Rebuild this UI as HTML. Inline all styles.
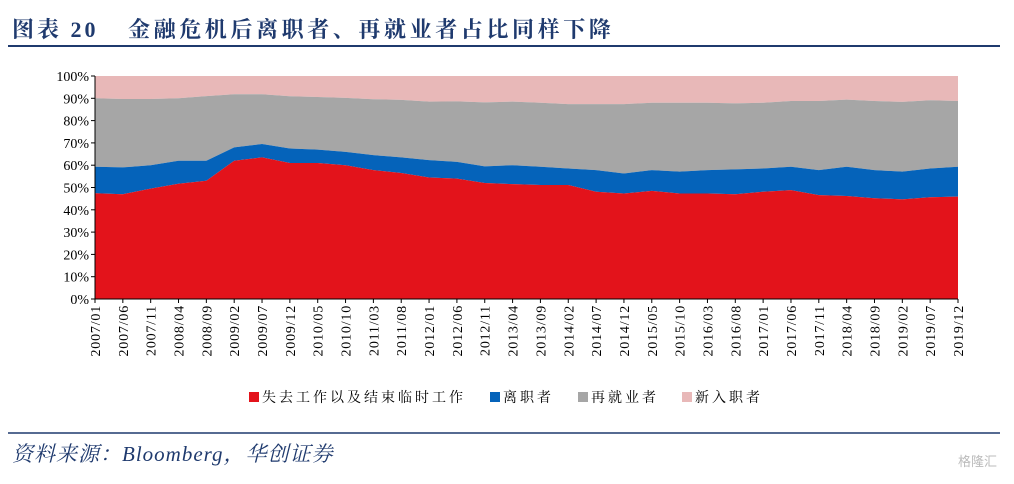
<!DOCTYPE html>
<html><head><meta charset="utf-8"><style>
body{margin:0;width:1014px;height:479px;background:#fff;overflow:hidden;font-family:"Liberation Serif","Noto Serif CJK SC",serif;}
</style></head><body>
<svg width="1014" height="479" xmlns="http://www.w3.org/2000/svg">
<text x="12" y="37" font-size="22" font-weight="bold" fill="#1f3a6e" font-family="'Liberation Serif','Noto Serif CJK SC',serif"><tspan letter-spacing="3">图表 20</tspan><tspan x="128" letter-spacing="3.6">金融危机后离职者、再就业者占比同样下降</tspan></text>
<line x1="8" y1="46" x2="1000" y2="46" stroke="#1f3a6e" stroke-width="2"/>
<g id="plot"></g>
<g id="yax"></g>
<g id="xax"></g>
<g font-size="14" font-family="'Liberation Serif','Noto Serif CJK SC',serif">
<rect x="249" y="392" width="10" height="10" fill="#e3131b"/>
<text x="262" y="402" letter-spacing="3">失去工作以及结束临时工作</text>
<rect x="490" y="392" width="10" height="10" fill="#0563ba"/>
<text x="503" y="402" letter-spacing="3">离职者</text>
<rect x="578" y="392" width="10" height="10" fill="#a6a6a6"/>
<text x="591" y="402" letter-spacing="3">再就业者</text>
<rect x="682" y="392" width="10" height="10" fill="#e8b8b8"/>
<text x="695" y="402" letter-spacing="3">新入职者</text>
</g>
<line x1="8" y1="433" x2="1000" y2="433" stroke="#1f3a6e" stroke-width="1.5"/>
<text x="12" y="461" font-size="21" font-style="italic" fill="#1f3a6e" letter-spacing="1">资料来源：Bloomberg，华创证券</text>
<text x="958" y="466" font-size="13" fill="#bbb" font-family="'Liberation Sans','Noto Sans CJK SC',sans-serif">格隆汇</text>
</svg>
<script>
// sampled every 5 months, 2007/01 .. 2019/12 (cumulative stack tops, %)
const categories=["2007/01","2007/06","2007/11","2008/04","2008/09","2009/02","2009/07","2009/12","2010/05","2010/10","2011/03","2011/08","2012/01","2012/06","2012/11","2013/04","2013/09","2014/02","2014/07","2014/12","2015/05","2015/10","2016/03","2016/08","2017/01","2017/06","2017/11","2018/04","2018/09","2019/02","2019/07","2019/12"];
const jobLosers=[47.4,47,49.5,51.7,53,62,63.5,61,61,60,57.8,56.5,54.5,54,52,51.5,51.1,51.1,48.1,47.3,48.5,47.3,47.3,47,48.1,48.8,46.6,46.2,45.2,44.7,45.6,45.9];
const leaversTop=[59.3,59,60,62,62,68,69.5,67.5,67,66,64.5,63.5,62.3,61.5,59.5,60,59.3,58.5,57.8,56.3,57.8,57.1,57.8,58.1,58.5,59.3,57.8,59.3,57.8,57.1,58.5,59.3];
const reentrantsTop=[90,89.7,89.7,90,91,91.8,91.8,90.9,90.6,90.2,89.6,89.3,88.5,88.6,88.2,88.5,88,87.4,87.4,87.4,88,88,88,87.7,88,88.8,88.8,89.4,88.8,88.4,89.1,88.8];
const yTicks=["0%","10%","20%","30%","40%","50%","60%","70%","80%","90%","100%"];
const X0=95,X1=958,Y0=299,Y1=76,NS="http://www.w3.org/2000/svg";
const xs=i=>X0+i*(X1-X0)/(categories.length-1);
const ys=v=>Y0-v/100*(Y0-Y1);
function mk(t,a,p){const e=document.createElementNS(NS,t);for(const k in a)e.setAttribute(k,a[k]);p.appendChild(e);return e;}
const plot=document.getElementById('plot');
function area(top,bot,fill,name){
  let d="M"+top.map((v,i)=>xs(i)+","+ys(v)).join("L");
  for(let i=bot.length-1;i>=0;i--)d+="L"+xs(i)+","+ys(bot[i]);
  const p=mk('path',{d:d+"Z",fill:fill},plot);
  
  
}
const zeros=categories.map(()=>0),hund=categories.map(()=>100);
area(hund,reentrantsTop,"#e8b8b8","area-new-entrants");
area(reentrantsTop,leaversTop,"#a6a6a6","area-reentrants");
area(leaversTop,jobLosers,"#0563ba","area-leavers");
area(jobLosers,zeros,"#e3131b","area-job-losers");
const yax=document.getElementById('yax');
mk('line',{x1:X0,y1:Y1,x2:X0,y2:Y0,stroke:"#000","stroke-width":1},yax);
yTicks.forEach((t,i)=>{const y=ys(i*10);
  mk('line',{x1:X0-4,y1:y,x2:X0,y2:y,stroke:"#000"},yax);
  const tx=mk('text',{x:X0-6,y:y+5,"text-anchor":"end","font-size":14,"font-family":"Liberation Serif"},yax);tx.textContent=t;
  
  
});
const xax=document.getElementById('xax');
mk('line',{x1:X0,y1:Y0,x2:X1,y2:Y0,stroke:"#000"},xax);
categories.forEach((c,i)=>{const x=xs(i);
  mk('line',{x1:x,y1:Y0,x2:x,y2:Y0+4,stroke:"#000"},xax);
  const tx=mk('text',{x:0,y:0,transform:`translate(${x+5},${Y0+6}) rotate(-90)`,"text-anchor":"end","font-size":14,"letter-spacing":"0.8","font-family":"Liberation Serif"},xax);tx.textContent=c;
  
  
});
</script>
</body></html>
